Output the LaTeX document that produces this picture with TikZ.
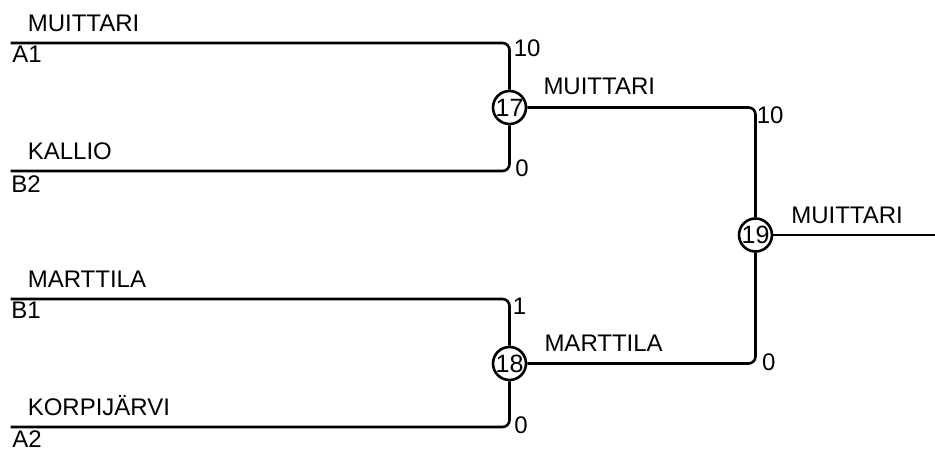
\documentclass[tikz,border=0pt]{standalone}
\usepackage{fontspec}
\setmainfont{Liberation Sans}
\usetikzlibrary{calc}

\begin{document}
\begin{tikzpicture}[x=1pt,y=-1pt,line width=2.6pt,
  ottelu/.style={circle, draw, fill=white, inner sep=0pt, minimum size=33pt,
    font=\fontsize{25}{25}\selectfont},
  nimi/.style={anchor=base west, inner sep=0pt, font=\fontsize{24}{24}\selectfont},
  linja/.style={rounded corners=7pt}]
\useasboundingbox (0,0) rectangle (935,449);
  % start points of the lines
  \coordinate (A1) at (10.5,43);
  \coordinate (B2) at (10.5,171);
  \coordinate (B1) at (10.5,299);
  \coordinate (A2) at (10.5,427);
  \coordinate (loppu) at (935,235);
  % matches
  \node[ottelu] (m17) at (509.5,107.5) {17};
  \node[ottelu] (m18) at (509.5,363.5) {18};
  \node[ottelu] (m19) at (755.5,235) {19};
  % lines
  \draw[linja] (A1) -| (m17);
  \draw[linja] (B2) -| (m17);
  \draw[linja] (B1) -| (m18);
  \draw[linja] (A2) -| (m18);
  \draw[linja] (m17) -| (m19);
  \draw[linja] (m18) -| (m19);
  \draw (m19) -- (loppu);
  % team names
  \node[nimi] (n1) at (26.5,31.5) {MUITTARI};
  \node[nimi] (n2) at (26.5,159.5) {KALLIO};
  \node[nimi] (n3) at (26.5,288) {MARTTILA};
  \node[nimi] (n4) at (26.5,415.5) {KORPIJÄRVI};
  \node[nimi] (n5) at (542.2,95) {MUITTARI};
  \node[nimi] (n6) at (543.2,352) {MARTTILA};
  \node[nimi] (n7) at (790,223.3) {MUITTARI};
  % seeds
  \node[nimi] (s1) at (11,63) {A1};
  \node[nimi] (s2) at (10,193) {B2};
  \node[nimi] (s3) at (10,319) {B1};
  \node[nimi] (s4) at (11,447.5) {A2};
  % scores
  \node[nimi] (p1) at (512.5,56.7) {10};
  \node[nimi] (p2) at (514,176.7) {0};
  \node[nimi] (p3) at (511.5,314) {1};
  \node[nimi] (p4) at (513,433) {0};
  \node[nimi] (p5) at (755.5,124) {10};
  \node[nimi] (p6) at (760.7,370) {0};
\end{tikzpicture}
\end{document}
